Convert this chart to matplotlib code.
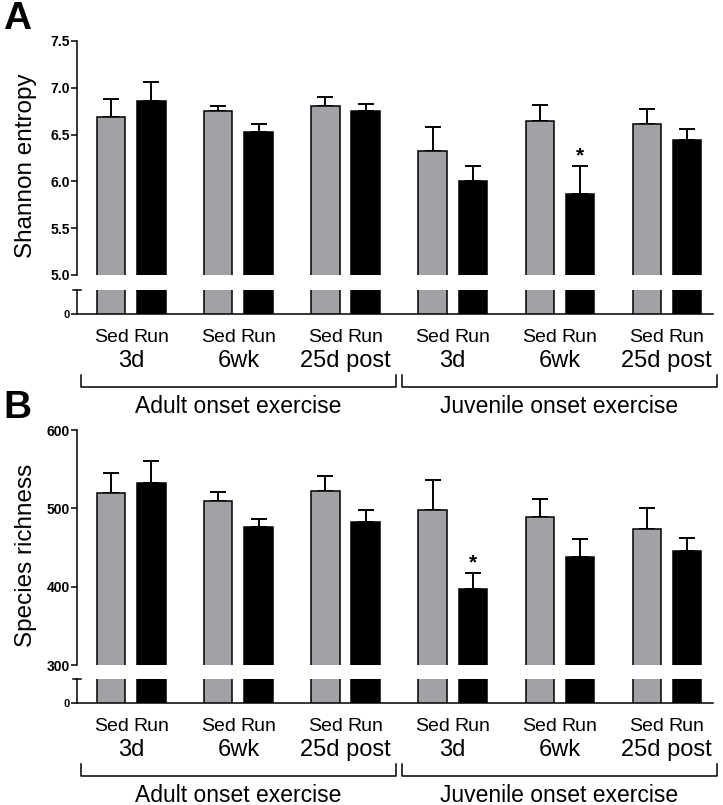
import matplotlib
matplotlib.use('Agg')
import matplotlib.pyplot as plt
import numpy as np
from matplotlib.transforms import blended_transform_factory

plt.rcParams['font.family'] = ['Liberation Sans', 'DejaVu Sans']

# data
groups = ['3d', '6wk', '25d post', '3d', '6wk', '25d post']
bar_labels = ['Sed', 'Run']
cohorts = ['Adult onset exercise', 'Juvenile onset exercise']

shannon_sed = [6.69, 6.75, 6.81, 6.33, 6.65, 6.61]
shannon_sed_err = [0.19, 0.06, 0.09, 0.25, 0.17, 0.16]
shannon_run = [6.86, 6.53, 6.75, 6.00, 5.87, 6.44]
shannon_run_err = [0.20, 0.08, 0.08, 0.16, 0.29, 0.12]
shannon_star = [4]

rich_sed = [520, 509, 522, 498, 489, 473]
rich_sed_err = [25, 12, 19, 38, 23, 27]
rich_run = [532, 476, 483, 397, 438, 445]
rich_run_err = [29, 10, 15, 20, 23, 17]
rich_star = [3]

W, H = 723, 805
GREY = '#a2a2a6'
LW = 1.1


def fy(px):
    return 1 - px / H


def draw_panel(fig, top, brk, cap, zero, sed, sed_err, run, run_err, stars,
               ylim, yticks, fmt, ylabel, letter):
    left = 77 / W
    width = 636 / W
    ax = fig.add_axes([left, fy(brk), width, fy(top) - fy(brk)])
    axl = fig.add_axes([left, fy(zero), width, fy(cap) - fy(zero)], sharex=ax)

    x = np.arange(len(sed))
    off = 0.187
    bw = 0.262
    for a in (ax, axl):
        a.bar(x - off, sed, bw, color=GREY, edgecolor='black', linewidth=LW, zorder=3)
        a.bar(x + off, run, bw, color='black', edgecolor='black', linewidth=LW, zorder=3)
    ax.errorbar(x - off, sed, yerr=[np.zeros(len(sed)), sed_err], fmt='none',
                ecolor='black', elinewidth=1.4, capsize=5.5, capthick=1.4, zorder=2)
    ax.errorbar(x + off, run, yerr=[np.zeros(len(run)), run_err], fmt='none',
                ecolor='black', elinewidth=1.4, capsize=5.5, capthick=1.4, zorder=2)
    for i in stars:
        ax.annotate('*', (x[i] + off, run[i] + run_err[i]), xytext=(0, 1),
                    textcoords='offset points', ha='center', va='bottom',
                    fontsize=15, fontweight='bold')

    ax.set_xlim(-0.509, 5.434)
    ax.set_ylim(*ylim)
    ax.set_yticks(yticks)
    ax.set_yticklabels([fmt % t for t in yticks], fontsize=10, fontweight='bold')
    for s in ('top', 'right', 'bottom'):
        ax.spines[s].set_visible(False)
    ax.spines['left'].set_linewidth(LW)
    ax.tick_params(axis='y', direction='out', length=4, width=LW, pad=1)
    ax.tick_params(axis='x', bottom=False, labelbottom=False)

    axl.set_ylim(0, 1)
    axl.set_yticks([0])
    axl.set_yticklabels(['0'], fontsize=8, fontweight='bold')
    for s in ('top', 'right'):
        axl.spines[s].set_visible(False)
    axl.spines['left'].set_linewidth(LW)
    axl.spines['bottom'].set_linewidth(LW)
    axl.tick_params(axis='y', direction='out', length=4, width=LW, pad=1)
    axl.plot([-0.0065, 0.0065], [1, 1], transform=axl.transAxes, color='black',
             lw=LW, clip_on=False)
    ticks = np.concatenate([x - off, x + off])
    axl.set_xticks(ticks)
    axl.set_xticklabels([bar_labels[0]] * len(x) + [bar_labels[1]] * len(x), fontsize=14)
    axl.tick_params(axis='x', length=0, pad=11)

    tr = blended_transform_factory(axl.transData, fig.transFigure)
    for i, g in enumerate(groups):
        fig.text(x[i], fy(zero + 47), g, transform=tr, fontsize=17,
                 ha='center', va='center')
    for k, name in enumerate(cohorts):
        c = x[3 * k + 1]
        x0, x1 = c - 1.475, c + 1.475
        yb, yt = fy(zero + 73), fy(zero + 61)
        axl.plot([x0, x0, x1, x1], [yt, yb, yb, yt], transform=tr, color='black',
                 lw=LW, clip_on=False)
        fig.text(c, fy(zero + 92), name, transform=tr, fontsize=16.5,
                 ha='center', va='center')

    fig.text(26 / W, fy((top + brk) / 2 + 8), ylabel, rotation=90, fontsize=17.5,
             ha='center', va='center')
    fig.text(3 / W, fy(top - 22), letter, fontsize=28, fontweight='bold',
             ha='left', va='center')


fig = plt.figure(figsize=(W / 100, H / 100), dpi=100)
draw_panel(fig, 41, 275, 290, 314, shannon_sed, shannon_sed_err, shannon_run,
           shannon_run_err, shannon_star, (5.0, 7.5), [5.0, 5.5, 6.0, 6.5, 7.0, 7.5],
           '%.1f', 'Shannon entropy', 'A')
draw_panel(fig, 430, 665, 679, 703, rich_sed, rich_sed_err, rich_run,
           rich_run_err, rich_star, (300, 600), [300, 400, 500, 600],
           '%d', 'Species richness', 'B')
fig.savefig('out.png', dpi=100)
